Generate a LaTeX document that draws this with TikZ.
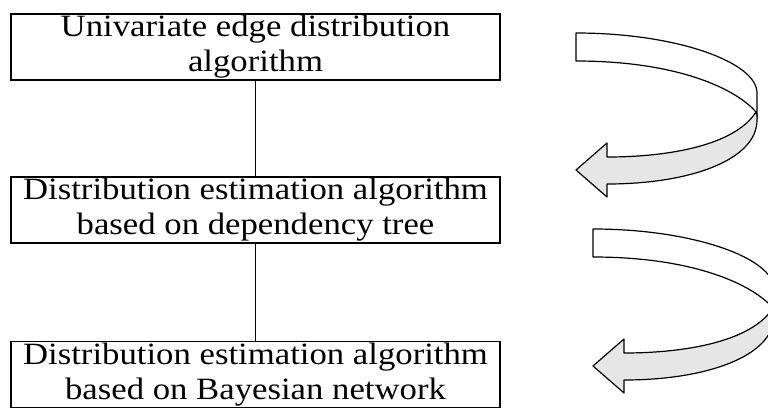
\documentclass[tikz,border=0pt]{standalone}
\usepackage{fontspec}
\setmainfont[FakeStretch=1.12]{Liberation Serif}
\definecolor{ribbongray}{RGB}{230, 230, 230}
\usepackage{tikz}
\usetikzlibrary{positioning}

\begin{document}
\begin{tikzpicture}[x=1pt, y=-1pt,
  algbox/.style={draw, line width=1.2pt, minimum width=489pt, minimum height=66pt, inner sep=0pt, align=center, font=\fontsize{31}{35}\selectfont},
  link/.style={line width=1.1pt},
  ribbon/.style={draw, line width=1.2pt, line join=round}]
\useasboundingbox (0,0) rectangle (768,408);
\clip (0,0) rectangle (768,408);
\node[algbox] (uni) at (255.5,47) {Univariate edge distribution\\algorithm};
\node[algbox] (tree) at (255.5,210) {Distribution estimation algorithm\\based on dependency tree};
\node[algbox] (bayes) at (255.5,374.5) {Distribution estimation algorithm\\based on Bayesian network};
\draw[link] (uni) -- (tree);
\draw[link] (tree) -- (bayes);
\foreach \dx/\dy in {0/0, 17/196} {
  \begin{scope}[shift={(\dx,\dy)}]
    \filldraw[ribbon, fill=white] (576,33) .. controls (676,33) and (757,62) .. (757,93) -- (757,118)
      -- (756,112) .. controls (735,88) and (676,61) .. (576,61) -- cycle;
    \filldraw[ribbon, fill=ribbongray] (756,112) .. controls (735,145) and (670,157) .. (607,157)
      -- (607,143) -- (576,170) -- (607,197) -- (607,184)
      .. controls (690,184) and (757,160) .. (757,120) -- (757,115) -- cycle;
  \end{scope}
}
\end{tikzpicture}
\end{document}
